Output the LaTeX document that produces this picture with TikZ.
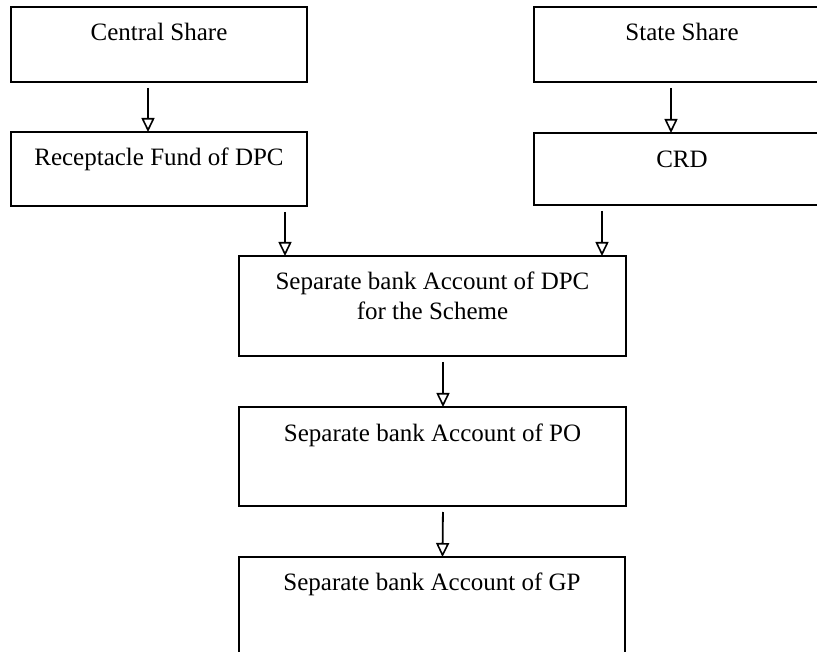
\documentclass[tikz,border=0pt]{standalone}
\usepackage{fontspec}
\setmainfont{Liberation Serif}
\usetikzlibrary{arrows.meta}

\tikzset{
  fundbox/.style={draw,line width=2.8pt,anchor=north,inner sep=0pt,outer sep=0pt,font=\fontsize{25}{30}\selectfont},
  flow/.style={line width=1.8pt,shorten <=6pt,-{Triangle[open,length=14pt,width=13pt,line width=1.6pt]}}
}

\begin{document}
\begin{tikzpicture}[x=1pt,y=-1pt]
      \useasboundingbox (0,0) rectangle (817,652);
      \clip (0,0) rectangle (817,652);
      \node[fundbox,minimum width=296pt,text height=34pt,text depth=41pt] (central) at (159,7) {Central Share};
      \node[fundbox,minimum width=296pt,text height=34pt,text depth=40pt] (recept) at (159,132) {Receptacle Fund of DPC};
      \node[fundbox,minimum width=296pt,text height=34pt,text depth=41pt] (state) at (682,7) {State Share};
      \node[fundbox,minimum width=296pt,text height=35pt,text depth=37pt] (crd) at (682,133) {CRD};
      \node[fundbox,minimum width=387pt,align=center,text height=64pt,text depth=36pt] (dpc) at (432.5,256) {Separate bank Account of DPC\\for the Scheme};
      \node[fundbox,minimum width=387pt,text height=34pt,text depth=65pt] (po) at (432.5,407) {Separate bank Account of PO};
      \node[fundbox,minimum width=386pt,text height=33pt,text depth=67pt] (gp) at (432,557) {Separate bank Account of GP};
      \draw[flow] ([xshift=-11pt]central.south) -- ([xshift=-11pt]recept.north);
      \draw[flow] ([xshift=-11pt]state.south) -- ([xshift=-11pt]crd.north);
      \draw[flow] ([xshift=-22pt]recept.south east) -- ([xshift=-22pt]recept.south east |- dpc.north);
      \draw[flow] ([xshift=68pt]crd.south west) -- ([xshift=68pt]crd.south west |- dpc.north);
      \draw[flow] ([xshift=10.5pt]dpc.south) -- ([xshift=10.5pt]po.north);
      \draw[flow] ([xshift=10.5pt]po.south) -- ([xshift=10.5pt]gp.north);
    \end{tikzpicture}
\end{document}
